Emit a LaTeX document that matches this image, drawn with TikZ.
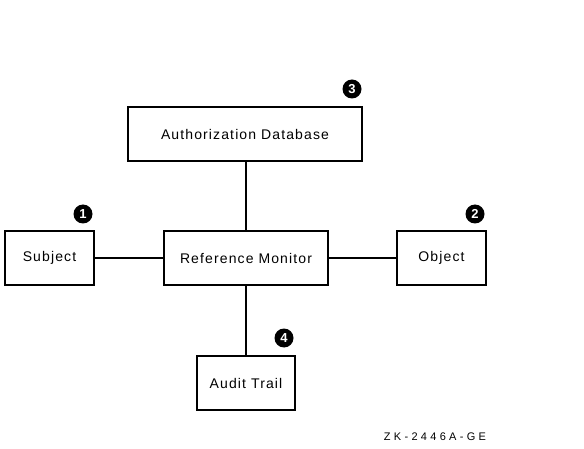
\documentclass[tikz,border=0pt]{standalone}
\usepackage{fontspec}
\setmainfont{Liberation Sans}
\begin{document}
\begin{tikzpicture}[x=1pt,y=-1pt,
  box/.style={draw,line width=2pt,inner sep=0pt,font=\fontsize{14}{16}\selectfont\addfontfeature{LetterSpace=8}},
  num/.style={circle,fill=black,text=white,inner sep=0pt,minimum size=19pt,font=\bfseries\fontsize{13}{14}\selectfont},
  conn/.style={line width=2pt}]
\useasboundingbox (0,0) rectangle (584,449);
\node[box,minimum width=234pt,minimum height=54pt] (auth) at (245,134) {Authorization Database};
\node[box,minimum width=89pt,minimum height=54pt] (subj) at (49.5,258) {Subject};
\node[box,minimum width=164pt,minimum height=54pt] (rm) at (246,258) {Reference Monitor};
\node[box,minimum width=89pt,minimum height=54pt] (obj) at (441.5,258) {Object};
\node[box,minimum width=98pt,minimum height=54pt] (audit) at (246,383) {Audit Trail};
\node[num] (n3) at (352,89) {3};
\node[num] (n1) at (83,214) {1};
\node[num] (n2) at (475,214) {2};
\node[num] (n4) at (284,338) {4};
\draw[conn] (auth.south -| rm.north) -- (rm.north);
\draw[conn] (subj) -- (rm);
\draw[conn] (rm) -- (obj);
\draw[conn] (rm) -- (audit);
\node[font=\fontsize{11}{13}\selectfont\addfontfeature{LetterSpace=30}] (lbl) at (435,437) {ZK-2446A-GE};
\end{tikzpicture}
\end{document}
